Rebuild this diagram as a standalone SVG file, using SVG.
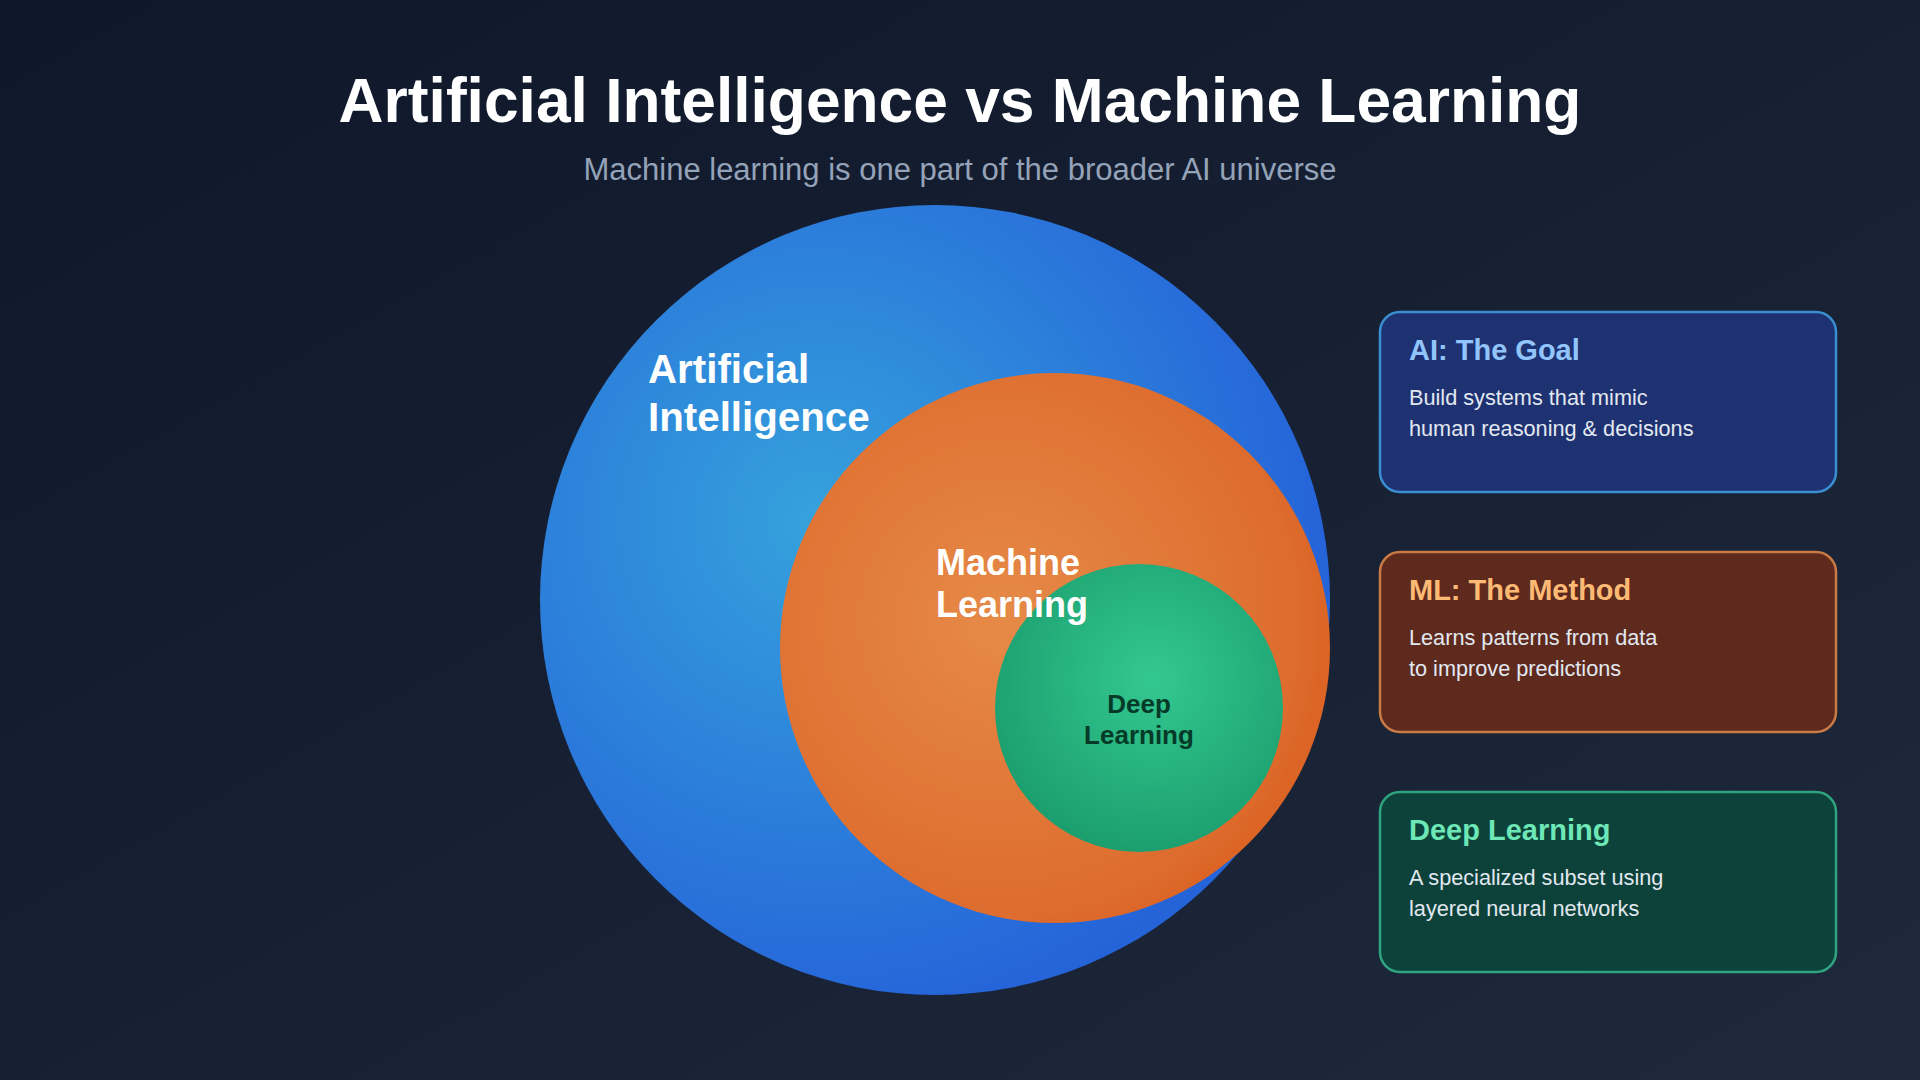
<svg xmlns="http://www.w3.org/2000/svg" width="1920" height="1080" viewBox="0 0 1920 1080">
<defs>
<linearGradient id="bg" x1="0" y1="0" x2="1" y2="1">
<stop offset="0" stop-color="#0f172a"/>
<stop offset="1" stop-color="#1e293b"/>
</linearGradient>
<radialGradient id="gAI" cx="0.35" cy="0.4" r="0.65">
<stop offset="0" stop-color="#35a2dc"/>
<stop offset="1" stop-color="#2563d9"/>
</radialGradient>
<radialGradient id="gML" cx="0.4" cy="0.45" r="0.6">
<stop offset="0" stop-color="#e68a48"/>
<stop offset="0.9" stop-color="#dd6c2e"/>
<stop offset="1" stop-color="#dc6424"/>
</radialGradient>
<radialGradient id="gDL" cx="0.55" cy="0.4" r="0.6">
<stop offset="0" stop-color="#33c88f"/>
<stop offset="1" stop-color="#1c9f6f"/>
</radialGradient>
<style>
.title{font-family:"Liberation Sans",Arial,sans-serif;font-weight:bold;font-size:62.3px;fill:#ffffff}
.sub{font-family:"Liberation Sans",Arial,sans-serif;font-size:31px;fill:#94a3b8}
.clabel{font-family:"Liberation Sans",Arial,sans-serif;font-weight:bold;fill:#ffffff}
.card{stroke-width:2.5}
.ctitle{font-family:"Liberation Sans",Arial,sans-serif;font-weight:bold;font-size:29px}
.cbody{font-family:"Liberation Sans",Arial,sans-serif;font-size:21.7px;fill:#e2e8f0}
</style>
</defs>
<rect width="1920" height="1080" fill="url(#bg)"/>
<text class="title" x="960" y="122" text-anchor="middle">Artificial Intelligence vs Machine Learning</text>
<text class="sub" x="960" y="180" text-anchor="middle">Machine learning is one part of the broader AI universe</text>

<g id="node-ai">
<circle cx="935" cy="600" r="395" fill="url(#gAI)"/>
<text class="clabel" font-size="40.3"><tspan x="648" y="383">Artificial</tspan><tspan x="648" y="431">Intelligence</tspan></text>
</g>
<g id="node-ml">
<circle cx="1055" cy="648" r="275" fill="url(#gML)"/>
</g>
<g id="node-dl">
<circle cx="1139" cy="708" r="144" fill="url(#gDL)"/>
<text class="clabel" font-size="26" style="fill:#063a28" text-anchor="middle"><tspan x="1139" y="713">Deep</tspan><tspan x="1139" y="744">Learning</tspan></text>
</g>
<g id="node-ml-label">
<text class="clabel" font-size="36"><tspan x="936" y="575">Machine</tspan><tspan x="936" y="617">Learning</tspan></text>
</g>

<g id="connectors"></g>

<g id="card-ai">
<rect class="card" x="1380" y="312" width="456" height="180" rx="20" fill="#1e3272" stroke="#3a8fd0"/>
<text class="ctitle" x="1409" y="360" fill="#93c5fd">AI: The Goal</text>
<text class="cbody"><tspan x="1409" y="405">Build systems that mimic</tspan><tspan x="1409" y="436">human reasoning &amp; decisions</tspan></text>
</g>
<g id="card-ml">
<rect class="card" x="1380" y="552" width="456" height="180" rx="20" fill="#5e2a1e" stroke="#c97a45"/>
<text class="ctitle" x="1409" y="600" fill="#fdba74">ML: The Method</text>
<text class="cbody"><tspan x="1409" y="645">Learns patterns from data</tspan><tspan x="1409" y="676">to improve predictions</tspan></text>
</g>
<g id="card-dl">
<rect class="card" x="1380" y="792" width="456" height="180" rx="20" fill="#0c423a" stroke="#2fa57f"/>
<text class="ctitle" x="1409" y="840" fill="#6ee7b7">Deep Learning</text>
<text class="cbody"><tspan x="1409" y="885">A specialized subset using</tspan><tspan x="1409" y="916">layered neural networks</tspan></text>
</g>
</svg>
